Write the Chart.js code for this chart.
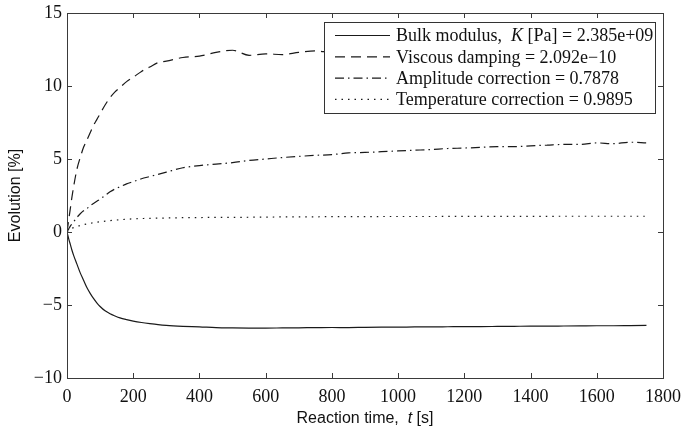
<!DOCTYPE html>
<html><head><meta charset="utf-8">
<script src="https://cdn.jsdelivr.net/npm/chart.js@4"></script>
<style>html,body{margin:0;padding:0;background:#fff}#wrap{width:681px;height:430px}</style>
</head><body><div id="wrap"><canvas id="c" width="681" height="430"></canvas></div>
<script>
// ---- data ----
const times = [0,5,10,15,20,30,40,50,60,70,80,90,100,115,130,145,160,180,200,225,250,275,300,
  350,400,450,500,550,600,650,700,750,800,850,900,950,1000,1050,1100,1150,1200,1250,1300,1350,1400,1450,1500,1550,1600,1650,1700,1750];
const bulkModulus = [0,-0.45,-0.85,-1.25,-1.6,-2.2,-2.8,-3.3,-3.8,-4.2,-4.55,-4.85,-5.1,-5.4,-5.6,-5.75,-5.88,-6.0,-6.1,-6.2,-6.28,-6.35,-6.4,
  -6.46,-6.5,-6.55,-6.57,-6.58,-6.58,-6.57,-6.56,-6.55,-6.54,-6.55,-6.53,-6.52,-6.52,-6.5,-6.5,-6.49,-6.48,-6.48,-6.47,-6.46,-6.45,-6.45,-6.44,-6.43,-6.42,-6.42,-6.41,-6.4];
const viscousDamping = [0,0.8,1.6,2.4,3.1,4.3,5.1,5.8,6.3,6.8,7.3,7.7,8.1,8.7,9.2,9.6,9.9,10.3,10.6,11.0,11.3,11.6,11.7,
  11.95,12.05,12.3,12.45,12.1,12.2,12.15,12.3,12.4,12.3,12.35,12.25,12.4,12.3,12.35,12.45,12.3,12.4,12.35,12.45,12.3,12.4,12.5,12.35,12.4,12.45,12.3,12.4,12.35];
const amplitudeCorrection = [0,0.2,0.4,0.55,0.7,1.0,1.25,1.45,1.6,1.8,1.95,2.1,2.25,2.5,2.75,2.95,3.1,3.3,3.45,3.65,3.8,3.95,4.1,
  4.4,4.55,4.65,4.75,4.9,5.0,5.1,5.18,5.25,5.3,5.42,5.45,5.5,5.55,5.6,5.65,5.72,5.75,5.8,5.85,5.85,5.9,5.95,6.0,6.0,6.1,6.05,6.15,6.1];
const temperatureCorrection = [0,0.1,0.18,0.25,0.3,0.38,0.45,0.5,0.55,0.6,0.63,0.67,0.7,0.74,0.78,0.81,0.84,0.87,0.9,0.92,0.94,0.95,0.96,
  0.98,0.99,1.0,1.0,1.01,1.02,1.03,1.03,1.04,1.05,1.05,1.05,1.06,1.06,1.06,1.06,1.07,1.07,1.07,1.07,1.07,1.07,1.07,1.08,1.08,1.08,1.08,1.08,1.08];
const seriesLabels = ['Bulk modulus,  K [Pa] = 2.385e+09','Viscous damping = 2.092e\u221210','Amplitude correction = 0.7878','Temperature correction = 0.9895'];
const seriesItalic = ['K', null, null, null];
const xTitle = 'Reaction time,  t [s]';
const xTitleItalic = 't';
const yTitle = 'Evolution [%]';
const xRange = [0, 1800], xStep = 200;
const yRange = [-10, 15], yStep = 5;

// ---- styles ----
const INK = '#1a1a1a';
const dashes = [[], [10, 6], [9, 4, 1.5, 4], [1.5, 5]];
const series = [bulkModulus, viscousDamping, amplitudeCorrection, temperatureCorrection];

function splitParts(text, token) {
  if (token) {
    const i = text.indexOf(' ' + token + ' ');
    if (i >= 0) return [[text.slice(0, i + 1), false], [token, true], [text.slice(i + 1 + token.length), false]];
  }
  return [[text, false]];
}
function mixedWidth(ctx, text, token, size, family) {
  let w = 0;
  splitParts(text, token).forEach(p => { ctx.font = (p[1] ? 'italic ' : '') + size + 'px ' + family; w += ctx.measureText(p[0]).width; });
  return w;
}
function drawMixed(ctx, text, token, x, y, size, family, align) {
  const parts = splitParts(text, token);
  const total = mixedWidth(ctx, text, token, size, family);
  let cx = align === 'center' ? x - total / 2 : x;
  ctx.textAlign = 'left';
  parts.forEach(p => { ctx.font = (p[1] ? 'italic ' : '') + size + 'px ' + family; ctx.fillText(p[0], cx, y); cx += ctx.measureText(p[0]).width; });
}

const framePlugin = {
  id: 'frame',
  afterDatasetsDraw(chart) {
    const {ctx, chartArea: a, scales: {x, y}} = chart;
    ctx.save();
    ctx.strokeStyle = '#3a3a3a'; ctx.lineWidth = 1; ctx.setLineDash([]);
    ctx.strokeRect(Math.round(a.left) + 0.5, Math.round(a.top) + 0.5, Math.round(a.right - a.left), Math.round(a.bottom - a.top));
    const tl = 5;
    ctx.beginPath();
    x.ticks.forEach(t => {
      const px = Math.round(x.getPixelForValue(t.value)) + 0.5;
      ctx.moveTo(px, a.bottom); ctx.lineTo(px, a.bottom - tl);
      ctx.moveTo(px, a.top); ctx.lineTo(px, a.top + tl);
    });
    y.ticks.forEach(t => {
      const py = Math.round(y.getPixelForValue(t.value)) + 0.5;
      ctx.moveTo(a.left, py); ctx.lineTo(a.left + tl, py);
      ctx.moveTo(a.right, py); ctx.lineTo(a.right - tl, py);
    });
    ctx.stroke();
    // legend
    const size = 18, fam = '"Liberation Serif", "Times New Roman", serif';
    let maxW = 0;
    chart.data.datasets.forEach((d, i) => { maxW = Math.max(maxW, mixedWidth(ctx, d.label, seriesItalic[i], size, fam)); });
    const sampleOff = 11, sampleLen = 55, textOff = 72;
    const bw = Math.round(textOff + maxW + 2), bh = 91;
    const bx = Math.round(a.right - 8 - bw), by = Math.round(a.top + 9);
    ctx.fillStyle = '#fff';
    ctx.fillRect(bx, by, bw, bh);
    ctx.strokeStyle = '#333';
    ctx.strokeRect(bx + 0.5, by + 0.5, bw, bh);
    chart.data.datasets.forEach((d, i) => {
      const ry = by + 13.5 + i * 21.3;
      ctx.strokeStyle = d.borderColor; ctx.lineWidth = d.borderWidth;
      ctx.setLineDash(d.borderDash || []);
      ctx.beginPath(); ctx.moveTo(bx + sampleOff, ry); ctx.lineTo(bx + sampleOff + sampleLen, ry); ctx.stroke();
      ctx.setLineDash([]);
      ctx.fillStyle = '#111'; ctx.textBaseline = 'middle';
      drawMixed(ctx, d.label, seriesItalic[i], bx + textOff, ry + 1, size, fam, 'left');
    });
    // x title
    ctx.fillStyle = '#111'; ctx.textBaseline = 'middle';
    drawMixed(ctx, xTitle, xTitleItalic, (a.left + a.right) / 2, 419, 16, '"Liberation Sans", Arial, sans-serif', 'center');
    ctx.restore();
  }
};

const tickFont = {family: '"Liberation Serif", "Times New Roman", serif', size: 18};
new Chart(document.getElementById('c'), {
  type: 'line',
  data: {
    datasets: series.map((s, i) => ({
      label: seriesLabels[i],
      data: times.map((t, k) => ({x: t, y: s[k]})),
      borderColor: INK, borderWidth: 1.2, borderDash: dashes[i],
      pointRadius: 0, fill: false, cubicInterpolationMode: 'monotone'
    }))
  },
  options: {
    responsive: false, animation: false, devicePixelRatio: 1,
    layout: {padding: {left: 6, top: 13, right: 18, bottom: 0}},
    plugins: {legend: {display: false}, tooltip: {enabled: false}},
    scales: {
      x: {
        type: 'linear', min: xRange[0], max: xRange[1],
        ticks: {stepSize: xStep, padding: 8, font: tickFont, color: '#111', maxRotation: 0, autoSkip: false,
          callback: v => String(v)},
        grid: {display: false, drawTicks: false}, border: {display: false},
        afterFit(s) { s.height = 52; s.paddingLeft = 0; s.paddingRight = 0; }
      },
      y: {
        min: yRange[0], max: yRange[1],
        ticks: {stepSize: yStep, padding: 5, font: tickFont, color: '#111',
          callback: v => String(v).replace('-', '\u2212')},
        title: {display: true, text: yTitle, font: {family: '"Liberation Sans", Arial, sans-serif', size: 16}, color: '#111', padding: 0},
        grid: {display: false, drawTicks: false}, border: {display: false},
        afterFit(s) { s.width = 61; s.paddingTop = 0; s.paddingBottom = 0; }
      }
    }
  },
  plugins: [framePlugin]
});
</script></body></html>
